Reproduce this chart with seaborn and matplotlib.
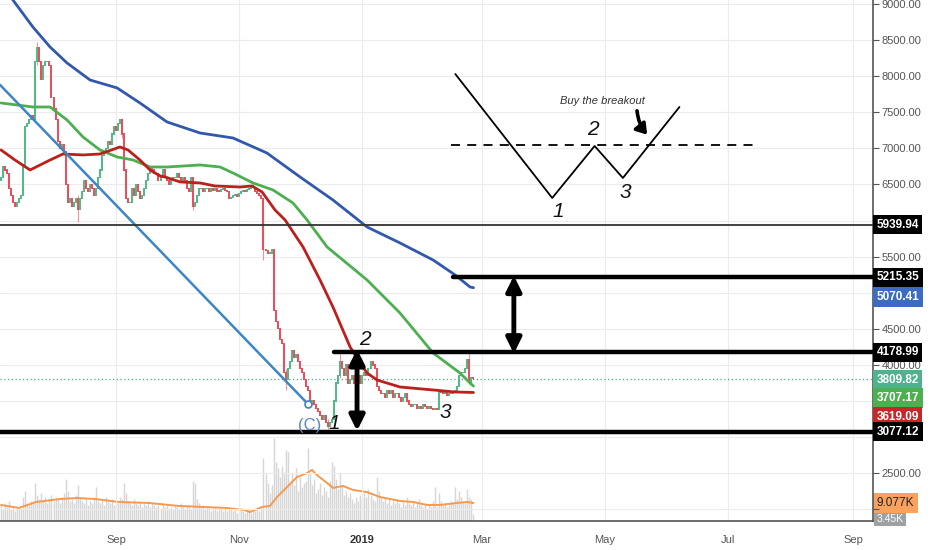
import pandas as pd
import matplotlib
matplotlib.use('Agg')
import matplotlib.pyplot as plt
import matplotlib.transforms as mtrans
import seaborn as sns

# BTC diario desde 2018-07-06
inicio = '2018-07-06'
apertura_inicial = 6550
cierres = [
    6600, 6750, 6700, 6650, 6450, 6350, 6250,
    6200, 6250, 6300, 6350, 6750, 7300, 7350,
    7400, 7450, 7400, 8200, 8400, 8200, 7950,
    8150, 8200, 8200, 8150, 7700, 7550, 7400,
    7100, 7000, 7050, 6950, 6500, 6250, 6300,
    6200, 6250, 6300, 6150, 6300, 6400, 6550,
    6450, 6400, 6500, 6450, 6350, 6450, 6600,
    6700, 6900, 6950, 7000, 7100, 7050, 7200,
    7300, 7250, 7350, 7400, 7200, 6700, 6300,
    6250, 6250, 6450, 6350, 6500, 6400, 6300,
    6350, 6450, 6550, 6650, 6750, 6700, 6650,
    6650, 6550, 6600, 6700, 6600, 6550, 6500,
    6550, 6600, 6600, 6650, 6600, 6550, 6600,
    6550, 6450, 6400, 6600, 6200, 6250, 6350,
    6450, 6450, 6400, 6450, 6450, 6400, 6450,
    6420, 6440, 6410, 6400, 6430, 6450, 6420,
    6400, 6300, 6320, 6350, 6360, 6340, 6380,
    6400, 6420, 6400, 6430, 6450, 6480, 6460,
    6400, 6380, 6350, 6300, 5600, 5580, 5550,
    5550, 5600, 4750, 4600, 4500, 4350, 4300,
    3900, 3800, 3950, 4050, 4200, 4100, 4150,
    4050, 3950, 3900, 3800, 3700, 3650, 3450,
    3500, 3450, 3400, 3350, 3300, 3250, 3300,
    3200, 3150, 3200, 3250, 3500, 3750, 3850,
    4050, 3950, 3850, 4000, 3750, 3800, 3850,
    3750, 3800, 3850, 3750, 3850, 3900, 3850,
    3950, 4050, 4000, 3950, 3700, 3650, 3600,
    3600, 3550, 3650, 3600, 3650, 3550, 3600,
    3600, 3550, 3500, 3550, 3600, 3500, 3450,
    3420, 3450, 3450, 3400, 3420, 3400, 3450,
    3420, 3400, 3420, 3400, 3380, 3400, 3380,
    3650, 3620, 3600, 3620, 3580, 3600, 3610,
    3620, 3650, 3700, 3850, 3900, 3900, 3950,
    4080, 3760, 3830, 3810,
]

# volumen diario en miles
volumen = [
    8, 6, 9, 7, 10, 6, 7,
    5, 6, 7, 6, 12, 15, 9,
    8, 10, 9, 19, 13, 11, 14,
    10, 12, 9, 11, 13, 10, 12,
    11, 9, 12, 14, 21, 15, 10,
    11, 9, 13, 18, 12, 10, 9,
    11, 8, 10, 9, 12, 17, 10,
    9, 11, 8, 12, 10, 9, 11,
    8, 10, 9, 12, 11, 19, 14,
    10, 9, 8, 11, 9, 8, 10,
    7, 9, 8, 10, 7, 9, 8,
    7, 8, 6, 9, 7, 8, 6,
    7, 6, 8, 7, 6, 9, 7,
    6, 8, 7, 6, 20, 19, 11,
    9, 7, 8, 6, 7, 6, 5,
    6, 7, 5, 6, 7, 5, 6,
    5, 7, 6, 5, 6, 4, 5,
    6, 5, 4, 5, 6, 4, 5,
    5, 6, 5, 7, 32, 24, 19,
    14, 18, 42, 30, 27, 22, 28,
    25, 36, 35, 20, 24, 18, 27,
    15, 22, 17, 19, 20, 37, 24,
    18, 21, 14, 16, 19, 13, 17,
    15, 12, 20, 30, 28, 21, 16,
    24, 18, 13, 15, 12, 14, 11,
    9, 12, 10, 13, 11, 14, 12,
    16, 13, 11, 10, 22, 15, 12,
    10, 12, 9, 11, 8, 10, 9,
    11, 9, 7, 10, 8, 12, 9,
    8, 10, 7, 9, 11, 8, 7,
    9, 6, 8, 7, 10, 17, 7,
    14, 10, 8, 9, 7, 8, 10,
    9, 17, 11, 15, 12, 10, 9,
    16, 12, 11, 3.45,
]

# mechas que se notan en la grafica
mecha_fechas = ['2018-07-24', '2018-08-13', '2018-09-04', '2018-10-09', '2018-11-13',
                '2018-11-24', '2018-12-15', '2018-12-21', '2019-02-23']
mecha_alto = [8480, 6350, 7420, 6600, 6300, 3950, 3250, 4150, 4150]
mecha_bajo = [8150, 5985, 7150, 6150, 5450, 3650, 3120, 3820, 3740]

# medias moviles (dias desde el inicio, precio)
rojo_dias = [0, 6.9, 14.4, 24.3, 30.7, 40.6, 49.0, 58.9, 62.9, 68.8, 73.8, 78.8, 81.2, 88.7,
             98.6, 106.0, 118.4, 124.3, 129.3, 135.7, 140.7, 149.6, 158.0, 164.4, 172.9,
             177.8, 181.3, 186.2, 197.6, 214.0, 224.9, 234]
rojo = [6978, 6839, 6701, 6839, 6922, 6909, 6922, 7019, 6978, 6839, 6701, 6618, 6604, 6535,
        6521, 6479, 6465, 6479, 6396, 6147, 6008, 5634, 5177, 4803, 4249,
        4028, 3889, 3792, 3695, 3654, 3626, 3619.09]
verde_dias = [0, 7.9, 15.8, 24.3, 32.7, 40.6, 49.0, 57.5, 65.4, 73.8, 82.2, 98.6, 108.5,
              114.9, 124.8, 134.7, 144.6, 151.6, 161.5, 181.3, 197.6, 214.0, 227.3, 232.3, 234]
verde = [7629, 7601, 7573, 7573, 7393, 7158, 6978, 6881, 6839, 6742, 6742, 6770, 6742,
         6659, 6521, 6424, 6244, 6008, 5634, 5177, 4720, 4166, 3889, 3751, 3707.17]
azul_dias = [0, 5.9, 15.8, 24.3, 32.7, 44.1, 57.5, 68.8, 82.2, 98.6, 114.9, 131.7, 148.1,
             164.4, 181.3, 197.6, 214.0, 224.9, 232.3, 234]
azul = [9290, 9055, 8681, 8404, 8183, 7947, 7837, 7629, 7366, 7213, 7144, 6936, 6604,
        6285, 5911, 5690, 5454, 5247, 5080, 5070.41]
vol_ma_dias = [0, 8.9, 17.3, 29.2, 37.6, 46.6, 58.4, 73.3, 88.2, 99.6, 111.4, 120.4, 123.3,
               129.3, 133.2, 136.7, 141.7, 146.6, 151.6, 154.0, 156.5, 161.5, 164.4, 169.4,
               174.3, 181.3, 187.7, 197.6, 204.1, 211.0, 217.4, 225.8, 230.8, 234]
vol_ma = [8.1, 6.6, 9.6, 11.1, 11.6, 11.1, 9.6, 9.1, 7.6, 7.1, 6.6, 5.6, 4.5,
          7.1, 7.6, 12.1, 17.2, 22.2, 24.2, 25.8, 23.2, 19.2, 16.7, 17.7,
          15.7, 14.6, 12.1, 10.1, 9.6, 8.1, 8.1, 9.1, 9.6, 9.077]

# niveles horizontales
nivel_5939 = 5939.94
nivel_5215 = 5215.35
nivel_4179 = 4178.99
nivel_3077 = 3077.12
ultimo = 3809.82

# dibujo del patron 1-2-3 (esquina superior derecha)
patron_fechas = ['2019-02-16', '2019-04-05', '2019-04-26', '2019-05-10', '2019-06-07']
patron_precios = [8030, 6313, 7033, 6590, 7573]
linea_rota_fechas = ['2019-02-14', '2019-07-14']
linea_rota_precio = 7047
tendencia_fechas = ['2018-07-05 12:00', '2018-12-05 00:00']
tendencia_precios = [7880, 3460]

# colores tipo tradingview
VERDE_VELA = '#53b987'
ROJO_VELA = '#e8505e'
C_ROJO = '#bd1f1b'
C_VERDE = '#4caf50'
C_AZUL = '#3158ad'
C_TEND = '#3d85c6'
C_VOL = '#d6d6d6'
C_VOLMA = '#f7994f'

sns.set_style('white')
plt.rcParams['font.family'] = ['Liberation Sans', 'DejaVu Sans']

base = pd.Timestamp(inicio)
fechas = pd.date_range(inicio, periods=len(cierres), freq='D')
aperturas = [apertura_inicial] + cierres[:-1]
df = pd.DataFrame({'fecha': fechas, 'open': aperturas, 'close': cierres, 'vol': volumen})


def a_fechas(dias):
    return [base + pd.Timedelta(days=d) for d in dias]


fig = plt.figure(figsize=(9.32, 5.5), dpi=100)
pos = [0, 29 / 550, 873 / 932, 521 / 550]
ax_vol = fig.add_axes(pos)
ax = fig.add_axes(pos)
ax.patch.set_alpha(0)

x_ini = pd.Timestamp('2018-07-05 12:00')
x_fin = pd.Timestamp('2019-09-10 21:00')

# volumen abajo, cada barra como una linea gruesa de 1 dia
ax_vol.vlines(df['fecha'], 0, df['vol'], color=C_VOL, lw=1.0, zorder=1)
sns.lineplot(x=a_fechas(vol_ma_dias), y=vol_ma, ax=ax_vol, color=C_VOLMA, linewidth=1.4,
             zorder=2)
ax_vol.set_ylim(0, 521 / 1.98)
ax_vol.set_xlim(x_ini, x_fin)
ax_vol.axis('off')

# cuadricula
for p in range(2000, 9001, 500):
    ax.axhline(p, color='#ececec', lw=0.8, zorder=0)
meses = pd.to_datetime(['2018-09-01', '2018-11-01', '2019-01-01', '2019-03-01',
                        '2019-05-01', '2019-07-01', '2019-09-01'])
for m in meses:
    ax.axvline(m, color='#ececec', lw=0.8, zorder=0)

# velas
colores = [VERDE_VELA if c >= o else ROJO_VELA for o, c in zip(df['open'], df['close'])]
bajo = [min(o, c) - 8 for o, c in zip(df['open'], df['close'])]
alto = [max(o, c) + 8 for o, c in zip(df['open'], df['close'])]
ax.vlines(pd.to_datetime(mecha_fechas), mecha_bajo, mecha_alto, color=ROJO_VELA,
          lw=0.8, alpha=0.6, zorder=3)
ax.vlines(df['fecha'], bajo, alto, colors=colores, lw=1.45, zorder=3)

# medias moviles
sns.lineplot(x=a_fechas(azul_dias), y=azul, ax=ax, color=C_AZUL, linewidth=2.0, zorder=4)
sns.lineplot(x=a_fechas(verde_dias), y=verde, ax=ax, color=C_VERDE, linewidth=2.0, zorder=4)
sns.lineplot(x=a_fechas(rojo_dias), y=rojo, ax=ax, color=C_ROJO, linewidth=2.0, zorder=4)

# linea de tendencia con su circulito
tend_x = [pd.Timestamp(f) for f in tendencia_fechas]
ax.plot(tend_x, tendencia_precios, color=C_TEND, lw=1.8, zorder=5)
ax.plot(tend_x[1:], tendencia_precios[1:], 'o', ms=5, mfc='white', mec=C_TEND, mew=1.2,
        zorder=6)

# niveles
ax.axhline(nivel_5939, color='#333333', lw=1.3, zorder=5)
ax.axhline(nivel_3077, color='black', lw=3.2, zorder=5)
ax.plot([pd.Timestamp('2019-02-15'), x_fin], [nivel_5215] * 2, color='black', lw=3.2, zorder=5)
ax.plot([pd.Timestamp('2018-12-18'), x_fin], [nivel_4179] * 2, color='black', lw=3.2, zorder=5)
ax.axhline(ultimo, color='#3fa98a', lw=0.9, ls=(0, (1, 2)), zorder=2)

# flechas dobles
flecha = dict(arrowstyle='<|-|>,head_length=0.9,head_width=0.45', lw=3.5, color='black',
              shrinkA=0, shrinkB=0)
ax.annotate('', xy=(pd.Timestamp('2018-12-29 08:00'), nivel_3077 + 10),
            xytext=(pd.Timestamp('2018-12-29 08:00'), nivel_4179 + 40), arrowprops=flecha,
            zorder=7)
ax.annotate('', xy=(pd.Timestamp('2019-03-17'), nivel_4179 - 20),
            xytext=(pd.Timestamp('2019-03-17'), nivel_5215 + 20), arrowprops=flecha, zorder=7)

# etiquetas del grafico
num = dict(fontsize=15, style='italic', color='#111111', ha='center', va='center', zorder=8)
ax.text(pd.Timestamp('2019-01-02'), 4346, '2', **num)
ax.text(pd.Timestamp('2018-12-18'), 3183, '1', **num)
ax.text(pd.Timestamp('2019-02-11'), 3335, '3', **num)
ax.text(pd.Timestamp('2018-12-06'), 3160, '(C)', fontsize=12, color='#5a86c0', ha='center',
        va='center', zorder=8)

# patron de ejemplo
ax.plot([pd.Timestamp(f) for f in patron_fechas], patron_precios, color='black', lw=1.3,
        zorder=6)
ax.plot([pd.Timestamp(f) for f in linea_rota_fechas], [linea_rota_precio] * 2, color='black',
        lw=1.3, ls=(0, (5, 4)), zorder=6)
ax.text(pd.Timestamp('2019-04-08'), 6119, '1', **num)
ax.text(pd.Timestamp('2019-04-25'), 7255, '2', **num)
ax.text(pd.Timestamp('2019-05-11'), 6382, '3', **num)
ax.text(pd.Timestamp('2019-04-30'), 7657, 'Buy the breakout', fontsize=8, style='italic',
        color='#333333', ha='center', va='center', zorder=8)
ax.annotate('', xy=(pd.Timestamp('2019-05-22'), 7190), xytext=(pd.Timestamp('2019-05-17'), 7520),
            arrowprops=dict(arrowstyle='-|>,head_length=0.6,head_width=0.4', lw=2.6,
                            color='black', connectionstyle='arc3,rad=0.15',
                            shrinkA=0, shrinkB=0), zorder=8)

# ejes
ax.set_xlim(x_ini, x_fin)
ax.set_ylim(1839, 9055)
ax.yaxis.tick_right()
ticks_y = list(range(2000, 9001, 500))
ocultos = [2000, 3000, 3500, 5000, 6000]
ax.set_yticks(ticks_y)
ax.set_yticklabels(['' if t in ocultos else f'{t:.2f}' for t in ticks_y])
ax.tick_params(axis='y', colors='#555555', labelsize=8, length=4, width=0.8, pad=2,
               labelcolor='#555555')
ax.set_xticks(meses)
ax.set_xticklabels(['Sep', 'Nov', '2019', 'Mar', 'May', 'Jul', 'Sep'])
ax.tick_params(axis='x', colors='#555555', labelsize=8, length=4, width=0.8, pad=6,
               labelcolor='#555555')
ax.get_xticklabels()[2].set_fontweight('bold')
ax.get_xticklabels()[2].set_color('#333333')
for lado in ['top', 'left']:
    ax.spines[lado].set_visible(False)
for lado in ['right', 'bottom']:
    ax.spines[lado].set_color('#555555')
    ax.spines[lado].set_linewidth(1.2)
ax.set_xlabel('')
ax.set_ylabel('')

# etiquetas de precio en el eje derecho
trans = mtrans.blended_transform_factory(ax.transAxes, ax.transData)
etiquetas = [
    (nivel_5939, '5939.94', 'black'),
    (nivel_5215, '5215.35', 'black'),
    (4942, '5070.41', '#3c6cc2'),
    (nivel_4179, '4178.99', 'black'),
    (3792, '3809.82', '#4db38c'),
    (3543, '3707.17', C_VERDE),
    (3280, '3619.09', '#c62828'),
    (nivel_3077, '3077.12', 'black'),
]
for y, txt, fondo in etiquetas:
    ax.text(1.004, y, txt, transform=trans, ha='left', va='center', color='white',
            fontsize=8.5, fontweight='bold', clip_on=False, zorder=10,
            bbox=dict(boxstyle='square,pad=0.3', fc=fondo, ec='none'))
trans_v = mtrans.blended_transform_factory(ax_vol.transAxes, ax_vol.transData)
ax_vol.text(1.004, 9.077, '9.077K', transform=trans_v, ha='left', va='center', color='#222222',
            fontsize=8.5, clip_on=False, zorder=10,
            bbox=dict(boxstyle='square,pad=0.3', fc='#f9a25e', ec='none'))
ax_vol.text(1.004, 1.2, '3.45K', transform=trans_v, ha='left', va='center', color='white',
            fontsize=7.5, clip_on=False, zorder=9,
            bbox=dict(boxstyle='square,pad=0.2', fc='#a0a0a0', ec='none'))

fig.savefig('out.png', dpi=100)
